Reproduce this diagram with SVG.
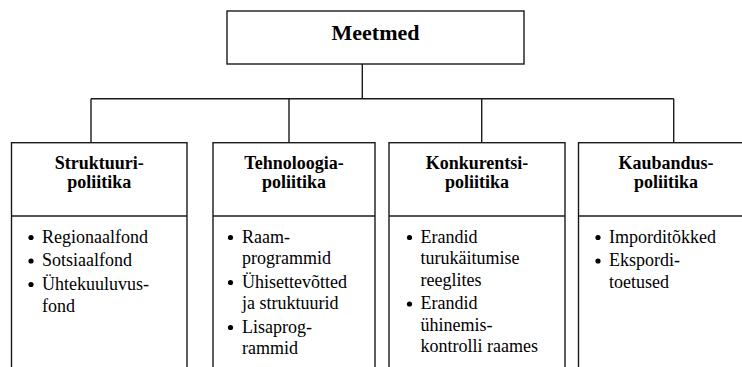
<svg xmlns="http://www.w3.org/2000/svg" width="742" height="367" viewBox="0 0 742 367" font-family="Liberation Serif" fill="#000">
<defs>
<style>
.box{fill:#fff;stroke:#1a1a1a;stroke-width:1.4}
.ln{fill:none;stroke:#1a1a1a;stroke-width:1.4}
</style>
</defs>
<rect width="742" height="367" fill="#fff"/>
<g id="connectors">
<path class="ln" d="M362.3 64 V98.7 M91 98.7 H673.7 M91 98.7 V142.7 M289 98.7 V142.7 M481.7 98.7 V142.7 M673.7 98.7 V142.7"/>
</g>
<g id="meetmed">
<rect class="box" x="227" y="11" width="297" height="53"/>
<text x="375.5" y="40" font-family="Liberation Serif" font-size="22" font-weight="bold" text-anchor="middle">Meetmed</text>
</g>
<g id="struktuuripoliitika" font-family="Liberation Serif" font-size="18">
<rect class="box" x="11.5" y="142.7" width="175.5" height="240"/>
<line class="ln" x1="11.5" y1="216" x2="187" y2="216"/>
<g font-weight="bold" text-anchor="middle">
<text x="99.3" y="169">Struktuuri-</text>
<text x="99.3" y="188">poliitika</text>
</g>
<circle cx="31" cy="237.5" r="2.6"/>
<text x="42" y="242.5">Regionaalfond</text>
<circle cx="31" cy="261" r="2.6"/>
<text x="42" y="266">Sotsiaalfond</text>
<circle cx="31" cy="284.5" r="2.6"/>
<text x="42" y="289.5">Ühtekuuluvus-</text>
<text x="42" y="311.5">fond</text>
</g>
<g id="tehnoloogiapoliitika" font-family="Liberation Serif" font-size="18">
<rect class="box" x="213" y="142.7" width="162" height="240"/>
<line class="ln" x1="213" y1="216" x2="375" y2="216"/>
<g font-weight="bold" text-anchor="middle">
<text x="294" y="169">Tehnoloogia-</text>
<text x="294" y="188">poliitika</text>
</g>
<circle cx="230.5" cy="237.5" r="2.6"/>
<text x="242" y="242.5">Raam-</text>
<text x="242" y="264">programmid</text>
<circle cx="230.5" cy="282.5" r="2.6"/>
<text x="242" y="287.5">Ühisettevõtted</text>
<text x="242" y="309">ja struktuurid</text>
<circle cx="230.5" cy="327.5" r="2.6"/>
<text x="242" y="332.5">Lisaprog-</text>
<text x="242" y="353.5">rammid</text>
</g>
<g id="konkurentsipoliitika" font-family="Liberation Serif" font-size="18">
<rect class="box" x="389" y="142.7" width="176" height="240"/>
<line class="ln" x1="389" y1="216" x2="565" y2="216"/>
<g font-weight="bold" text-anchor="middle">
<text x="477" y="169">Konkurentsi-</text>
<text x="477" y="188">poliitika</text>
</g>
<circle cx="409.5" cy="237.5" r="2.6"/>
<text x="420.5" y="242.5">Erandid</text>
<text x="420.5" y="264">turukäitumise</text>
<text x="420.5" y="285.5">reeglites</text>
<circle cx="409.5" cy="304" r="2.6"/>
<text x="420.5" y="309">Erandid</text>
<text x="420.5" y="330.5">ühinemis-</text>
<text x="420.5" y="352">kontrolli raames</text>
</g>
<g id="kaubanduspoliitika" font-family="Liberation Serif" font-size="18">
<rect class="box" x="578.5" y="142.7" width="180" height="240"/>
<line class="ln" x1="578.5" y1="216" x2="758.5" y2="216"/>
<g font-weight="bold" text-anchor="middle">
<text x="666" y="169">Kaubandus-</text>
<text x="666" y="188">poliitika</text>
</g>
<circle cx="598" cy="237.5" r="2.6"/>
<text x="609" y="242.5">Imporditõkked</text>
<circle cx="598" cy="261" r="2.6"/>
<text x="609" y="266">Ekspordi-</text>
<text x="609" y="287.5">toetused</text>
</g>
</svg>
